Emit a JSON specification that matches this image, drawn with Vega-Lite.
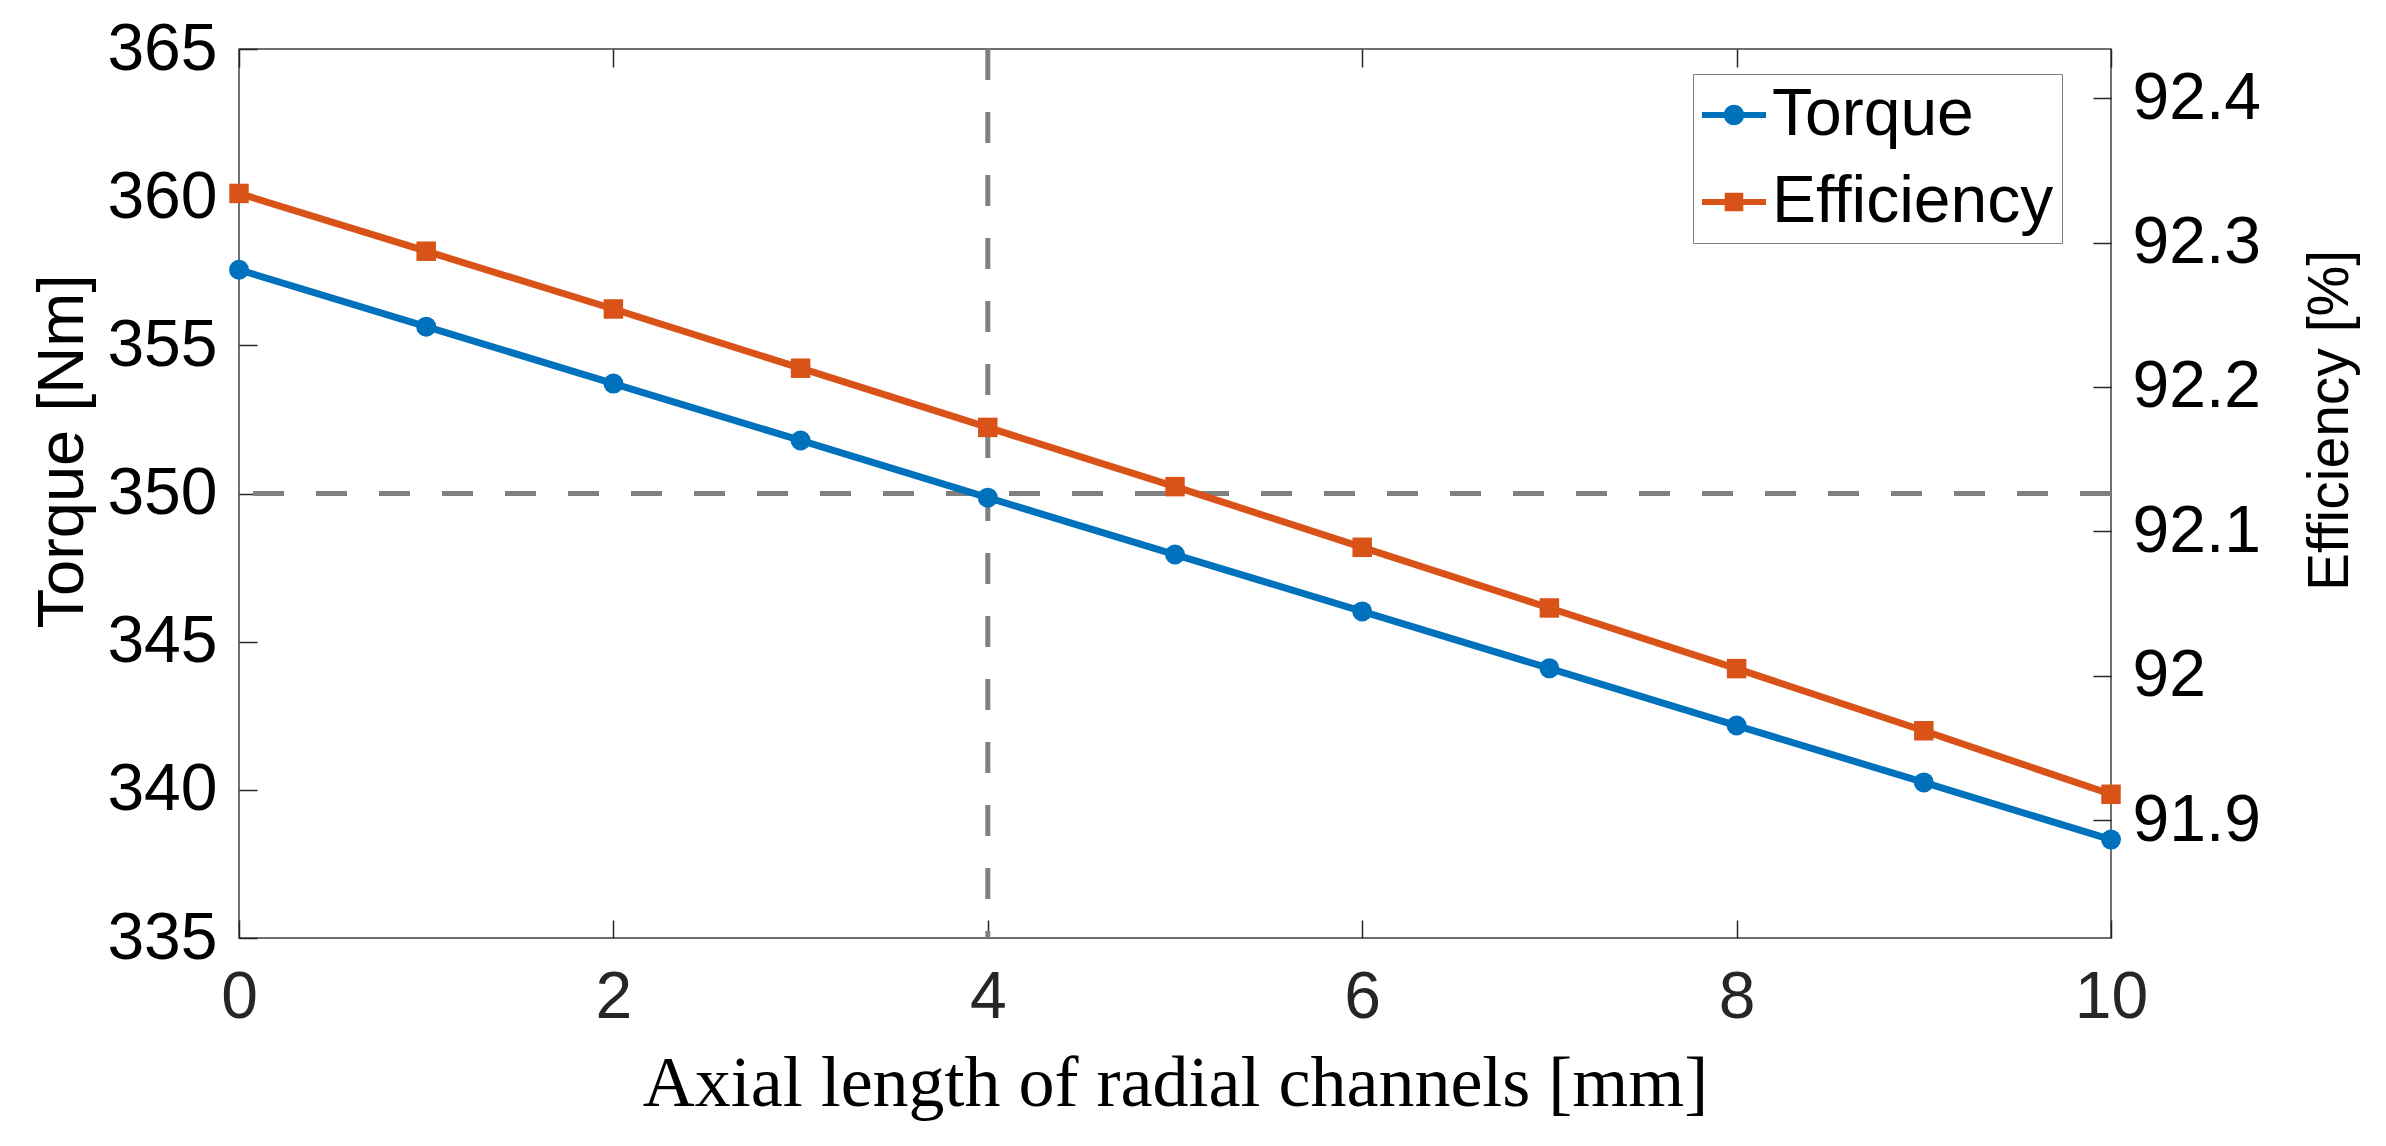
{
  "$schema": "https://vega.github.io/schema/vega-lite/v6.json",
  "width": 1872,
  "height": 889,
  "autosize": {"type": "none"},
  "padding": {"left": 239, "top": 49, "right": 275, "bottom": 208},
  "background": "white",
  "datasets": {
    "torque": [
      {"x": 0, "series": "Torque", "torque": 357.55},
      {"x": 1, "series": "Torque", "torque": 355.63},
      {"x": 2, "series": "Torque", "torque": 353.71},
      {"x": 3, "series": "Torque", "torque": 351.79},
      {"x": 4, "series": "Torque", "torque": 349.86},
      {"x": 5, "series": "Torque", "torque": 347.94},
      {"x": 6, "series": "Torque", "torque": 346.02},
      {"x": 7, "series": "Torque", "torque": 344.10},
      {"x": 8, "series": "Torque", "torque": 342.17},
      {"x": 9, "series": "Torque", "torque": 340.25},
      {"x": 10, "series": "Torque", "torque": 338.32}
    ],
    "efficiency": [
      {"x": 0, "series": "Efficiency", "eff": 92.334},
      {"x": 1, "series": "Efficiency", "eff": 92.294},
      {"x": 2, "series": "Efficiency", "eff": 92.254},
      {"x": 3, "series": "Efficiency", "eff": 92.213},
      {"x": 4, "series": "Efficiency", "eff": 92.172},
      {"x": 5, "series": "Efficiency", "eff": 92.131},
      {"x": 6, "series": "Efficiency", "eff": 92.089},
      {"x": 7, "series": "Efficiency", "eff": 92.047},
      {"x": 8, "series": "Efficiency", "eff": 92.005},
      {"x": 9, "series": "Efficiency", "eff": 91.962},
      {"x": 10, "series": "Efficiency", "eff": 91.918}
    ],
    "refs": [{"x": 4, "torque": 350}]
  },
  "layer": [
    {
      "layer": [
        {
          "data": {"name": "refs"},
          "mark": {"type": "rule", "color": "#808080", "strokeWidth": 5, "strokeDash": [31, 32]},
          "encoding": {
            "y": {"field": "torque", "type": "quantitative", "scale": {"domain": [335, 365], "nice": false, "zero": false}}
          }
        },
        {
          "data": {"name": "refs"},
          "mark": {"type": "rule", "color": "#808080", "strokeWidth": 5, "strokeDash": [31, 32]},
          "encoding": {
            "x": {"field": "x", "type": "quantitative", "scale": {"domain": [0, 10], "nice": false}}
          }
        },
        {
          "data": {"name": "torque"},
          "mark": {"type": "line", "strokeWidth": 7},
          "encoding": {
            "x": {
              "field": "x",
              "type": "quantitative",
              "scale": {"domain": [0, 10], "nice": false},
              "axis": {
                "orient": "bottom",
                "values": [0, 2, 4, 6, 8, 10],
                "format": "d",
                "title": "Axial length of radial channels [mm]",
                "domain": false,
                "grid": false,
                "tickSize": -18,
                "tickColor": "#262626",
                "tickWidth": 1.5,
                "labelFont": "Liberation Sans",
                "labelFontSize": 66,
                "labelColor": "#262626",
                "labelPadding": 45,
                "labelFlush": false,
                "labelOverlap": false,
                "titleFont": "Liberation Serif",
                "titleFontSize": 72,
                "titleFontWeight": "normal",
                "titleColor": "black",
                "titleBaseline": "alphabetic",
                "titleY": 167
              }
            },
            "y": {
              "field": "torque",
              "type": "quantitative",
              "scale": {"domain": [335, 365], "nice": false, "zero": false},
              "axis": {
                "orient": "left",
                "values": [335, 340, 345, 350, 355, 360, 365],
                "title": "Torque [Nm]",
                "domain": false,
                "grid": false,
                "tickSize": -18,
                "tickColor": "#262626",
                "tickWidth": 1.5,
                "labelFont": "Liberation Sans",
                "labelFontSize": 66,
                "labelColor": "black",
                "labelPadding": 40,
                "titleFont": "Liberation Sans",
                "titleFontSize": 65,
                "titleFontWeight": "normal",
                "titleColor": "black",
                "titleAngle": -90,
                "titleAlign": "center",
                "titleBaseline": "alphabetic",
                "titleX": -157,
                "titleY": 402
              }
            },
            "color": {
              "field": "series",
              "type": "nominal",
              "scale": {"domain": ["Torque", "Efficiency"], "range": ["#0072BD", "#D95319"]},
              "legend": {
                "orient": "none",
                "legendX": 1454,
                "legendY": 25,
                "title": null,
                "padding": 8,
                "fillColor": "white",
                "strokeColor": "#808080",
                "labelFont": "Liberation Sans",
                "labelFontSize": 66,
                "labelColor": "black",
                "labelLimit": 0,
                "labelOffset": 5,
                "rowPadding": 21,
                "symbolSize": 4096,
                "encode": {
                  "symbols": {
                    "update": {
                      "shape": {"signal": "datum.value === 'Torque' ? 'M-1,-0.09H1V0.09H-1Z M-0.32,0A0.32,0.32 0 1,1 0.32,0A0.32,0.32 0 1,1 -0.32,0Z' : 'M-1,-0.09H1V0.09H-1Z M-0.29,-0.29H0.29V0.29H-0.29Z'"},
                      "fill": {"signal": "datum.value === 'Torque' ? '#0072BD' : '#D95319'"},
                      "stroke": {"value": "transparent"},
                      "strokeWidth": {"value": 0},
                      "opacity": {"value": 1},
                      "size": {"value": 4096}
                    }
                  }
                }
              }
            }
          }
        },
        {
          "data": {"name": "torque"},
          "mark": {"type": "point", "shape": "circle", "filled": true, "size": 400, "opacity": 1},
          "encoding": {
            "x": {"field": "x", "type": "quantitative"},
            "y": {"field": "torque", "type": "quantitative"},
            "color": {"field": "series", "type": "nominal"}
          }
        }
      ]
    },
    {
      "data": {"name": "efficiency"},
      "layer": [
        {
          "mark": {"type": "line", "strokeWidth": 7},
          "encoding": {
            "x": {
              "field": "x",
              "type": "quantitative",
              "axis": {
                "orient": "top",
                "values": [0, 2, 4, 6, 8, 10],
                "title": null,
                "labels": false,
                "domain": false,
                "grid": false,
                "tickSize": -18,
                "tickColor": "#262626",
                "tickWidth": 1.5
              }
            },
            "y": {
              "field": "eff",
              "type": "quantitative",
              "scale": {"domain": [91.8185, 92.434], "nice": false, "zero": false},
              "axis": {
                "orient": "right",
                "values": [91.9, 92, 92.1, 92.2, 92.3, 92.4],
                "format": ".1~f",
                "title": "Efficiency [%]",
                "domain": false,
                "grid": false,
                "tickSize": -18,
                "tickColor": "#262626",
                "tickWidth": 1.5,
                "labelFont": "Liberation Sans",
                "labelFontSize": 66,
                "labelColor": "black",
                "labelPadding": 39,
                "titleFont": "Liberation Sans",
                "titleFontSize": 57,
                "titleFontWeight": "normal",
                "titleColor": "black",
                "titleAngle": -90,
                "titleAlign": "center",
                "titleBaseline": "alphabetic",
                "titleX": 236,
                "titleY": 371
              }
            },
            "color": {"field": "series", "type": "nominal"}
          }
        },
        {
          "mark": {"type": "point", "shape": "square", "filled": true, "size": 380, "opacity": 1},
          "encoding": {
            "x": {"field": "x", "type": "quantitative"},
            "y": {"field": "eff", "type": "quantitative"},
            "color": {"field": "series", "type": "nominal"}
          }
        }
      ]
    }
  ],
  "resolve": {"scale": {"y": "independent"}, "axis": {"x": "independent"}},
  "config": {
    "view": {"stroke": "#404040", "strokeWidth": 1.5}
  }
}
